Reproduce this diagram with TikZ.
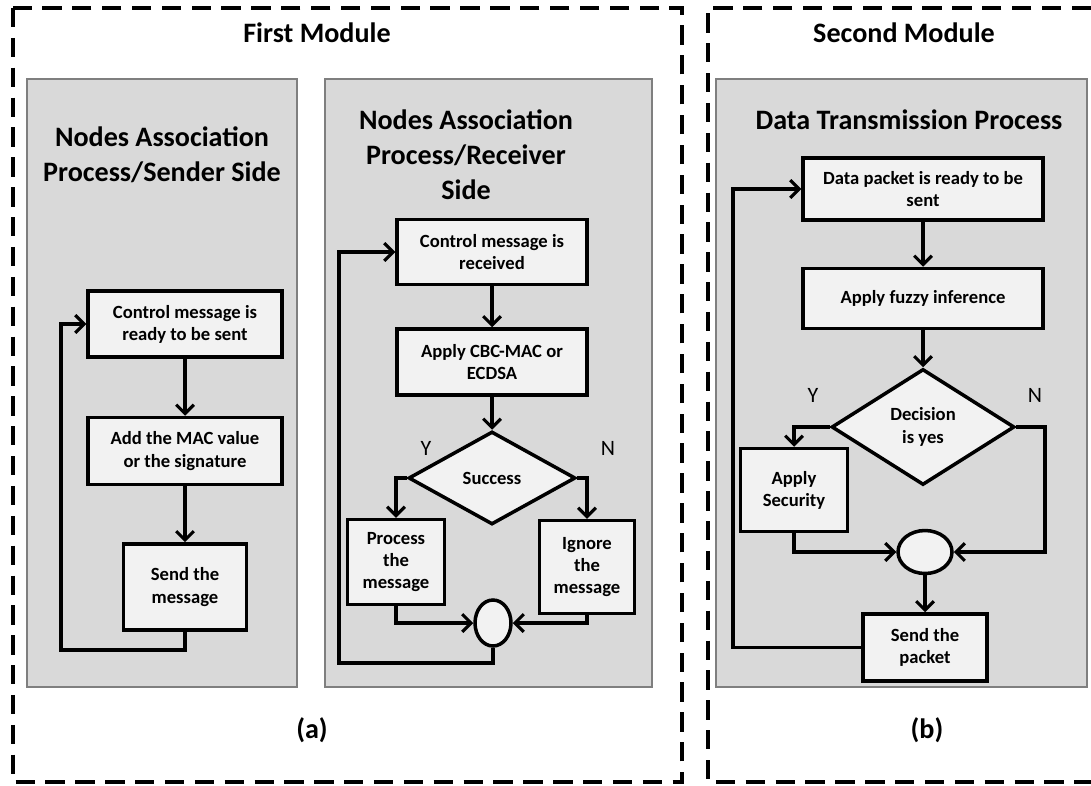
\documentclass[tikz,border=0pt]{standalone}
\usepackage{fontspec}
\setmainfont{Carlito}
\usepackage{tikz}
\usetikzlibrary{shapes.geometric, arrows.meta, positioning}
\definecolor{panelgray}{HTML}{D9D9D9}
\definecolor{boxfill}{HTML}{F2F2F2}
\definecolor{paneledge}{HTML}{7F7F7F}

\begin{document}
\begin{tikzpicture}[x=0.02cm, y=-0.02cm,
        proc/.style={draw=black, line width=2pt, fill=boxfill, align=center, inner sep=2pt, font=\fontsize{10.6}{12.6}\selectfont\bfseries},
        decision/.style={diamond, draw=black, line width=2pt, fill=boxfill, align=center, inner sep=0pt, font=\fontsize{10.6}{12.6}\selectfont\bfseries},
        merge/.style={ellipse, draw=black, line width=2pt, fill=boxfill, inner sep=0pt},
        line/.style={-{Straight Barb[length=5pt, width=10pt, line width=1.8pt]}, line width=1.8pt, black},
        panel/.style={fill=panelgray, draw=paneledge, line width=0.6pt},
        frame/.style={line width=1.9pt, dash pattern=on 11pt off 6pt},
        title/.style={align=center, font=\fontsize{16}{19.8}\selectfont\bfseries},
        yn/.style={font=\fontsize{12.5}{14}\selectfont}
    ]
        \useasboundingbox (0,0) rectangle (1091,785);
        \fill[white] (0,0) rectangle (1091,785);

        % dashed module frames and gray panels
        \draw[frame] (13,8) rectangle (682,782);
        \draw[frame] (1091,8) -- (708,8) -- (708,782) -- (1091,782);
        \draw[panel] (27,79) rectangle (297,687);
        \draw[panel] (325,79) rectangle (652,687);
        \draw[panel] (716,79) rectangle (1087,687);

        \node (mod1) [title] at (317,33) {First Module};
        \node (mod2) [title] at (904,33) {Second Module};
        \node (t1) [title] at (162,155) {Nodes Association\\Process/Sender Side};
        \node (t2) [title] at (466,155) {Nodes Association\\Process/Receiver\\Side};
        \node (t3) [title] at (909,120) {Data Transmission Process};
        \node (capa) [title] at (312,730) {(a)};
        \node (capb) [title] at (927,730) {(b)};

        % sender side
        \node (s1) [proc, minimum width=3.88cm, minimum height=1.32cm] at (185,324) {Control message is\\ready to be sent};
        \node (s2) [proc, minimum width=3.88cm, minimum height=1.34cm, below=1.14cm of s1] {Add the MAC value\\or the signature};
        \node (s3) [proc, minimum width=2.46cm, minimum height=1.72cm, below=1.12cm of s2] {Send the\\message};
        \coordinate (loopA) at (61,650);

        \draw [line] (s1) -- (s2);
        \draw [line] (s2) -- (s3);
        \draw [line] (s3.south) |- (loopA) |- (s1.west);

        % receiver side
        \node (r1) [proc, minimum width=3.8cm, minimum height=1.3cm] at (492,252) {Control message is\\received};
        \node (r2) [proc, minimum width=3.8cm, minimum height=1.32cm, below=0.82cm of r1] {Apply CBC-MAC or\\ECDSA};
        \node (ok) [decision, minimum width=3.34cm, minimum height=1.86cm, below=0.66cm of r2] {Success};
        \node (pm) [proc, minimum width=1.94cm, minimum height=1.7cm] at (396,562) {Process\\the\\message};
        \node (ig) [proc, minimum width=1.9cm, minimum height=1.86cm] at (587,567) {Ignore\\the\\message};
        \node (j1) [merge, minimum width=0.72cm, minimum height=0.92cm] at (493,623) {};
        \node (y1) [yn] at (426,448) {Y};
        \node (n1) [yn] at (608,448) {N};
        \coordinate (loopB) at (339,663);

        \draw [line] (r1) -- (r2);
        \draw [line] (r2) -- (ok);
        \draw [line] (ok.west) -| (pm.north);
        \draw [line] (ok.east) -| (ig.north);
        \draw [line] (pm.south) |- (j1.west);
        \draw [line] (ig.south) |- (j1.east);
        \draw [line] (j1.south) |- (loopB) |- (r1.west);

        % data transmission
        \node (d1) [proc, minimum width=4.8cm, minimum height=1.24cm] at (923,189) {Data packet is ready to be\\sent};
        \node (d2) [proc, minimum width=4.8cm, minimum height=1.2cm, below=0.9cm of d1] {Apply fuzzy inference};
        \node (dec) [decision, minimum width=3.66cm, minimum height=2.32cm, below=0.74cm of d2] {Decision\\is yes};
        \node (sec) [proc, minimum width=2.14cm, minimum height=1.66cm] at (794,490) {Apply\\Security};
        \node (j2) [merge, minimum width=1.08cm, minimum height=0.86cm] at (925,552) {};
        \node (pk) [proc, minimum width=2.48cm, minimum height=1.34cm, below=0.74cm of j2] {Send the\\packet};
        \node (y2) [yn] at (813,395) {Y};
        \node (n2) [yn] at (1035,395) {N};
        \coordinate (loopC) at (1045,552);
        \coordinate (loopD) at (733,189);

        \draw [line] (d1) -- (d2);
        \draw [line] (d2) -- (dec);
        \draw [line] (dec.west) -| (sec.north);
        \draw [line] (dec.east) -| (loopC) -- (j2.east);
        \draw [line] (sec.south) |- (j2.west);
        \draw [line] (j2) -- (pk);
        \draw [line] (pk.west) -| (loopD) -- (d1.west);
    \end{tikzpicture}
\end{document}
